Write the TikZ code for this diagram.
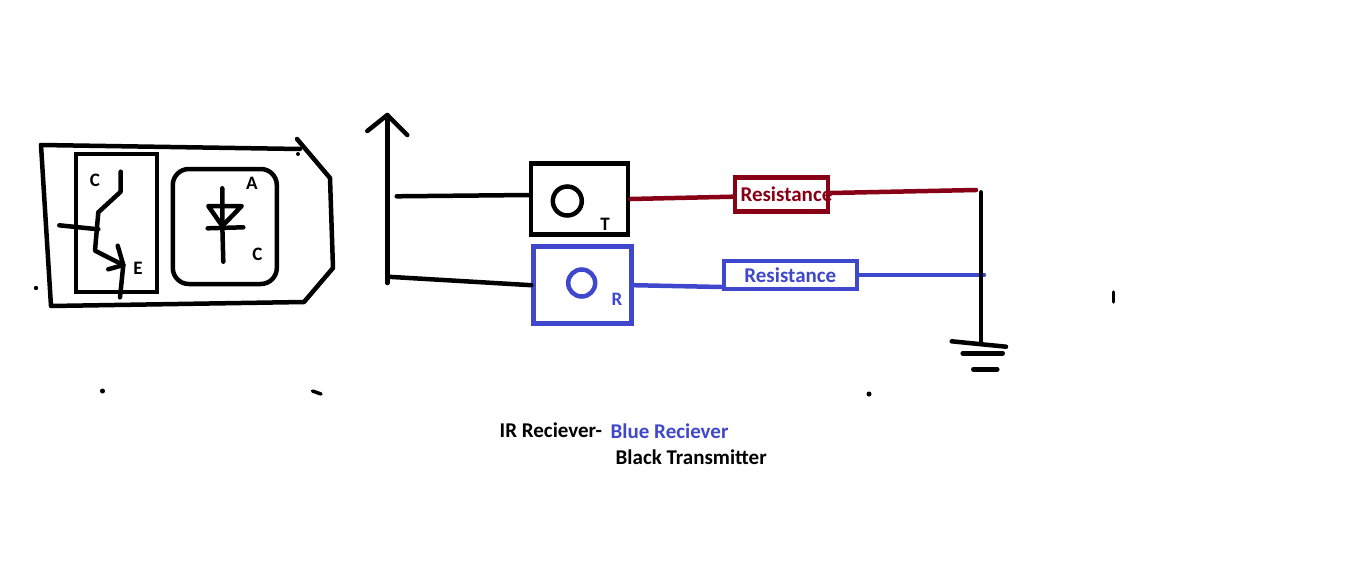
\documentclass[tikz,border=0pt]{standalone}
\usepackage{fontspec}
\setmainfont{Carlito}
\definecolor{wireblue}{HTML}{3F48CC}
\definecolor{wirered}{HTML}{880015}
\tikzset{
    pen/.style={line width=4.5pt, line cap=round, line join=round},
    thinpen/.style={line width=3.5pt, line cap=round, line join=round},
    box/.style={draw, line width=4.5pt, inner sep=0pt, font=\bfseries\fontsize{21}{24}\selectfont},
    lbl/.style={inner sep=0pt, font=\bfseries\fontsize{21}{24}\selectfont},
    small/.style={inner sep=0pt, font=\bfseries\fontsize{19}{21}\selectfont}
}
\begin{document}
\begin{tikzpicture}[x=1pt, y=-1pt]
    \useasboundingbox (0,0) rectangle (1355,560);
    % outer package
    \draw [pen] (41,145) -- (300,149);
    \draw [pen] (297,139) -- (330,178) -- (333,268) -- (304,302) -- (51,306) -- (41,145);
    \fill (298,154) circle (2);
    % phototransistor
    \node [box, minimum width=81pt, minimum height=138pt] (photobox) at (116.3,223) {};
    \node [small] (clabel) at (95,180) {C};
    \node [small] (elabel) at (138,268.7) {E};
    \draw [pen] (120.7,171.7) -- (120.7,191.7) -- (98.3,212.3) -- (95,250.7) -- (123.3,265);
    \draw [pen] (117.7,245.7) -- (123.3,265) -- (120,297.3);
    \draw [pen] (108.3,269.3) -- (123.3,265);
    \draw [pen] (59.3,225.3) -- (98.3,229.3);
    % diode
    \node [box, rounded corners=16pt, minimum width=104pt, minimum height=115pt] (diodebox) at (224.8,226.5) {};
    \node [small] (alabel) at (252,183.7) {A};
    \node [small] (cdlabel) at (257.5,254) {C};
    \draw [pen] (222.3,188.3) -- (222.3,225) -- (223.3,261.7);
    \draw [pen] (208.3,206) -- (241.7,206) -- (222.3,226) -- cycle;
    \draw [pen] (207.7,228.3) -- (243.3,227.3);
    % antenna
    \coordinate (anttop) at (387.3,115);
    \coordinate (antbot) at (387.3,283);
    \coordinate (antjoin) at (387.3,276.7);
    \coordinate (txstart) at (396.7,196.3);
    \draw [pen] (anttop) -- (antbot);
    \draw [pen] (367.3,131) -- (anttop) -- (407.3,135);
    % transmitter and receiver
    \node [box, minimum width=97pt, minimum height=71pt] (txbox) at (579.7,199) {};
    \node [draw, circle, line width=4.5pt, minimum size=29pt, inner sep=0pt] (txlens) at (567.3,201) {};
    \node [small] (tlabel) at (605,224) {T};
    \node [box, draw=wireblue, minimum width=98pt, minimum height=77pt] (rxbox) at (582.5,285.2) {};
    \node [draw=wireblue, circle, line width=4.5pt, minimum size=27pt, inner sep=0pt] (rxlens) at (581.7,283) {};
    \node [small, text=wireblue] (rlabel) at (617,299) {R};
    \draw [pen] (txstart) -- ([yshift=4pt]txbox.west);
    \draw [pen] (antjoin) -- (rxbox.west);
    % resistors
    \node [box, draw=wirered, text=wirered, minimum width=93pt, minimum height=34pt] (redres) at (781.5,194.7) {\makebox[88pt][l]{\hspace*{3pt}\raisebox{2pt}{Resistance}}};
    \node [box, draw=wireblue, text=wireblue, minimum width=133pt, minimum height=28pt] (blueres) at (790.3,275) {\raisebox{-2pt}{Resistance}};
    \coordinate (redend) at (976,190);
    \coordinate (blueend) at (984,275);
    \draw [pen, wirered] (txbox.east) -- ([yshift=-2pt]redres.west);
    \draw [pen, wirered] ([yshift=1.7pt]redres.east) -- (redend);
    \draw [pen, wireblue] (rxbox.east) -- ([yshift=-12pt]blueres.west);
    \draw [pen, wireblue] (blueres.east) -- (blueend);
    % ground
    \coordinate (gndtop) at (981,192.3);
    \coordinate (gndbot) at (981,343);
    \draw [pen] (gndtop) -- (gndbot);
    \draw [pen] (951.7,341.3) -- (1006,346.7);
    \draw [pen] (962.7,353.3) -- (1002.7,353.3);
    \draw [pen] (973.3,369.3) -- (997.3,369.3);
    % stray marks
    \fill (36,288) circle (2.2);
    \fill (102.5,391) circle (2.5);
    \fill (869,394) circle (2.5);
    \draw [thinpen] (312.5,391) -- (321,394);
    \draw [thinpen] (1113.5,292) -- (1113.5,302);
    % caption
    \node [lbl, anchor=west] (irlabel) at (499.5,430) {IR Reciever-};
    \node [lbl, anchor=west, text=wireblue] (bluelabel) at (610.5,431.5) {Blue Reciever};
    \node [lbl, anchor=west] (blacklabel) at (615.5,457.5) {Black Transmitter};
\end{tikzpicture}
\end{document}
